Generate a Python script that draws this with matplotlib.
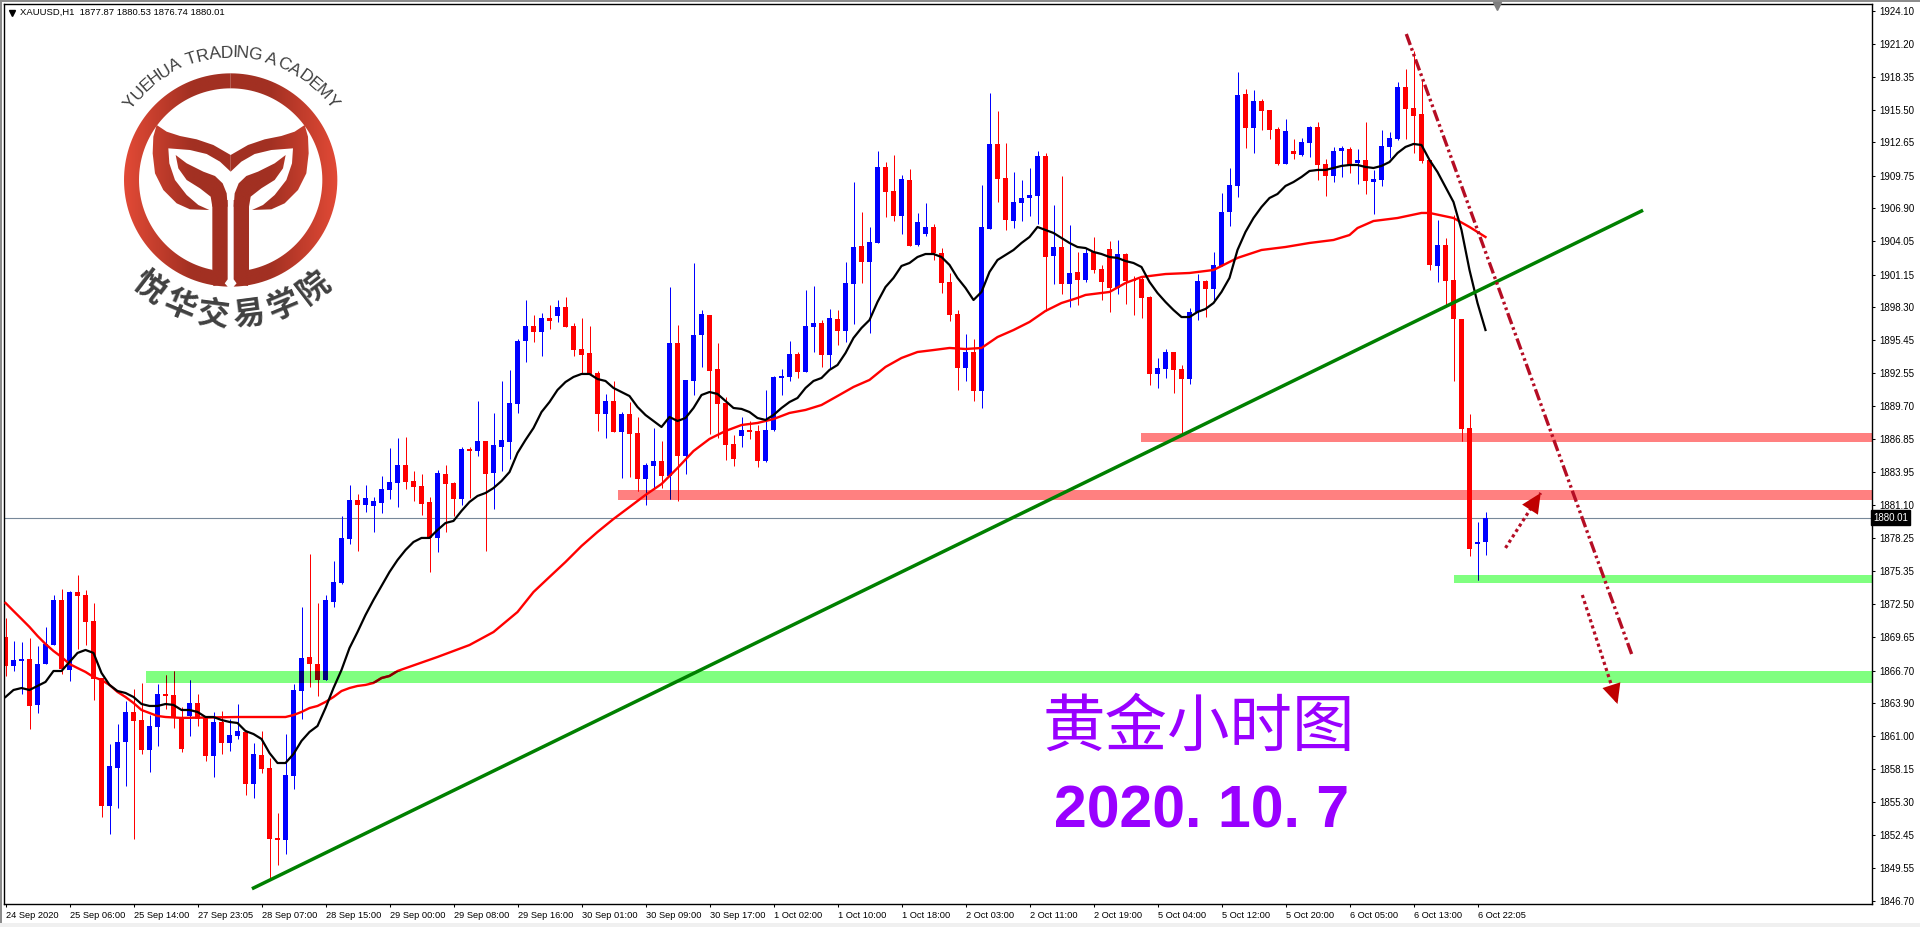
# -*- coding: utf-8 -*-

import numpy as np
import matplotlib as mpl
mpl.use('Agg')
import matplotlib.pyplot as plt
from matplotlib.patches import Rectangle, Polygon
from matplotlib.font_manager import FontProperties
from matplotlib.textpath import TextPath

# XAUUSD H1 candles
opens = [
    1869.64, 1867.12, 1867.55, 1867.73, 1863.73, 1867.29, 1868.94, 1872.86, 1866.77, 1873.55,
    1873.29, 1871.03, 1866.07, 1854.94, 1858.25, 1860.51, 1863.12, 1862.42, 1859.81, 1861.81,
    1864.68, 1864.59, 1862.59, 1862.77, 1863.90, 1862.59, 1859.29, 1862.25, 1860.42, 1861.03,
    1861.38, 1856.86, 1859.38, 1858.25, 1852.16, 1851.99, 1857.55, 1864.94, 1867.90, 1867.29,
    1865.90, 1872.68, 1874.33, 1878.16, 1881.55, 1881.12, 1881.03, 1881.29, 1882.42, 1883.03,
    1884.59, 1883.20, 1882.77, 1881.38, 1878.25, 1883.81, 1883.03, 1881.64, 1885.99, 1885.81,
    1886.68, 1883.90, 1886.16, 1886.59, 1889.90, 1895.38, 1896.68, 1896.16, 1897.38, 1897.55,
    1898.33, 1896.68, 1894.68, 1894.33, 1892.60, 1889.03, 1890.16, 1887.46, 1889.03, 1887.38,
    1883.38, 1884.51, 1884.94, 1883.64, 1895.20, 1885.38, 1891.90, 1895.90, 1897.64, 1892.94,
    1889.99, 1886.42, 1887.12, 1887.64, 1887.55, 1884.94, 1887.64, 1892.16, 1892.25, 1894.25,
    1892.68, 1896.59, 1896.94, 1894.16, 1897.29, 1896.25, 1900.33, 1903.64, 1902.25, 1903.90,
    1910.51, 1908.42, 1906.25, 1909.38, 1903.72, 1904.68, 1905.29, 1903.03, 1900.51, 1897.72,
    1893.03, 1894.42, 1891.03, 1905.12, 1912.51, 1909.55, 1905.81, 1907.38, 1907.81, 1907.99,
    1911.46, 1902.77, 1903.55, 1900.33, 1901.38, 1900.68, 1903.12, 1901.64, 1903.38, 1899.99,
    1902.94, 1900.68, 1900.77, 1899.20, 1892.51, 1892.94, 1894.42, 1892.94, 1892.07, 1897.90,
    1900.59, 1899.90, 1901.90, 1906.59, 1908.86, 1916.86, 1913.90, 1916.25, 1915.47, 1913.81,
    1910.77, 1911.90, 1911.55, 1912.60, 1913.99, 1910.77, 1909.72, 1911.90, 1912.07, 1910.86,
    1911.12, 1909.20, 1909.38, 1912.25, 1912.94, 1917.46, 1915.64, 1915.12, 1911.12, 1901.90,
    1903.72, 1900.68, 1897.29, 1887.81, 1877.72, 1877.87,
]
closes = [
    1867.12, 1867.64, 1867.73, 1863.64, 1867.29, 1869.03, 1872.86, 1866.86, 1873.55, 1873.20,
    1870.94, 1865.99, 1854.94, 1858.42, 1860.51, 1863.12, 1862.33, 1859.81, 1861.90, 1864.68,
    1864.51, 1862.59, 1859.90, 1863.90, 1862.51, 1859.29, 1862.25, 1860.42, 1861.12, 1861.46,
    1856.86, 1859.46, 1858.16, 1852.07, 1851.99, 1857.64, 1865.03, 1867.81, 1867.29, 1865.90,
    1872.86, 1874.42, 1878.25, 1881.55, 1881.12, 1881.72, 1881.46, 1882.51, 1883.12, 1884.59,
    1883.12, 1882.68, 1881.20, 1878.25, 1883.90, 1882.94, 1881.64, 1885.99, 1885.81, 1886.68,
    1883.81, 1886.33, 1886.77, 1889.99, 1895.38, 1896.68, 1896.16, 1897.38, 1897.12, 1898.33,
    1896.59, 1894.59, 1894.16, 1892.51, 1889.03, 1890.16, 1887.46, 1889.03, 1887.29, 1883.38,
    1884.59, 1884.94, 1883.64, 1895.20, 1885.38, 1891.99, 1895.90, 1897.72, 1892.77, 1889.90,
    1886.33, 1885.12, 1887.64, 1887.46, 1884.94, 1887.64, 1892.25, 1892.33, 1894.25, 1892.68,
    1896.68, 1896.94, 1894.16, 1897.38, 1896.25, 1900.42, 1903.55, 1902.25, 1903.98, 1910.51,
    1908.33, 1906.25, 1909.46, 1903.64, 1905.73, 1905.29, 1903.03, 1900.42, 1897.64, 1893.03,
    1894.42, 1891.03, 1905.29, 1912.51, 1909.46, 1905.90, 1907.46, 1907.81, 1908.07, 1911.46,
    1902.68, 1903.55, 1900.33, 1901.29, 1900.68, 1903.03, 1901.55, 1900.51, 1899.99, 1902.94,
    1900.59, 1900.59, 1899.12, 1892.51, 1893.03, 1894.42, 1892.86, 1892.07, 1897.90, 1900.59,
    1899.90, 1901.99, 1906.59, 1908.94, 1916.77, 1913.90, 1916.25, 1915.38, 1913.72, 1910.77,
    1913.64, 1911.64, 1912.68, 1913.99, 1910.68, 1909.72, 1911.90, 1912.16, 1910.68, 1911.12,
    1909.29, 1909.46, 1912.33, 1913.03, 1917.46, 1915.55, 1914.94, 1911.03, 1901.99, 1903.72,
    1900.59, 1897.29, 1887.72, 1877.29, 1877.90, 1880.01,
]
highs = [
    1871.29, 1869.29, 1869.20, 1869.55, 1868.86, 1870.51, 1873.29, 1873.81, 1873.64, 1875.03,
    1873.73, 1872.60, 1866.07, 1860.33, 1862.07, 1864.07, 1865.12, 1865.64, 1862.85, 1865.55,
    1866.33, 1866.68, 1863.55, 1865.90, 1864.68, 1862.77, 1863.12, 1863.20, 1862.51, 1863.81,
    1861.55, 1860.42, 1861.46, 1859.12, 1854.33, 1861.20, 1865.55, 1872.25, 1876.86, 1872.60,
    1873.29, 1876.25, 1880.16, 1882.86, 1882.07, 1882.86, 1881.81, 1883.64, 1886.07, 1886.94,
    1887.03, 1884.07, 1883.81, 1881.81, 1884.16, 1884.59, 1883.12, 1886.16, 1886.16, 1890.16,
    1886.68, 1889.12, 1891.90, 1892.86, 1895.55, 1898.94, 1897.64, 1897.81, 1898.51, 1898.94,
    1899.20, 1896.94, 1897.38, 1896.68, 1892.77, 1890.77, 1891.90, 1889.20, 1890.07, 1888.77,
    1884.77, 1887.81, 1886.68, 1900.07, 1896.77, 1891.99, 1902.16, 1898.07, 1897.64, 1895.20,
    1890.51, 1887.20, 1888.77, 1888.42, 1888.07, 1891.12, 1892.33, 1892.94, 1895.38, 1894.42,
    1899.81, 1900.16, 1897.20, 1898.16, 1898.07, 1902.25, 1909.20, 1906.59, 1905.29, 1911.90,
    1910.94, 1911.55, 1909.81, 1910.33, 1906.51, 1907.38, 1905.55, 1903.46, 1901.29, 1898.07,
    1895.99, 1895.55, 1908.94, 1916.94, 1915.38, 1912.59, 1910.07, 1909.38, 1910.42, 1911.90,
    1911.72, 1907.20, 1909.72, 1905.46, 1903.12, 1903.46, 1904.42, 1901.99, 1904.07, 1904.16,
    1903.03, 1901.03, 1901.03, 1899.29, 1893.90, 1894.68, 1894.42, 1893.29, 1898.25, 1901.20,
    1900.68, 1903.12, 1908.25, 1910.42, 1918.77, 1917.29, 1917.20, 1916.42, 1915.47, 1913.99,
    1914.68, 1912.94, 1913.03, 1914.07, 1914.42, 1911.20, 1912.25, 1912.33, 1912.25, 1912.07,
    1914.42, 1910.25, 1913.72, 1913.55, 1917.90, 1919.03, 1920.59, 1918.07, 1911.12, 1905.90,
    1904.33, 1906.33, 1897.29, 1889.03, 1879.64, 1880.53,
]
lows = [
    1866.25, 1866.68, 1864.68, 1861.64, 1863.03, 1867.29, 1868.94, 1866.42, 1865.81, 1868.60,
    1868.94, 1864.16, 1853.99, 1852.51, 1854.77, 1856.68, 1852.07, 1859.46, 1857.90, 1860.16,
    1863.38, 1861.72, 1859.64, 1861.03, 1861.90, 1858.86, 1857.46, 1859.46, 1859.72, 1860.77,
    1855.90, 1855.64, 1857.81, 1848.64, 1849.81, 1850.77, 1856.42, 1862.51, 1865.29, 1864.51,
    1865.90, 1872.25, 1874.25, 1877.72, 1877.12, 1880.51, 1878.77, 1880.42, 1881.64, 1880.94,
    1882.51, 1881.46, 1880.25, 1875.29, 1877.03, 1878.77, 1880.16, 1881.12, 1881.72, 1885.38,
    1877.12, 1880.77, 1884.07, 1885.12, 1889.12, 1893.55, 1895.29, 1894.07, 1896.42, 1897.03,
    1896.59, 1894.07, 1892.51, 1892.51, 1887.55, 1886.94, 1887.46, 1883.46, 1883.55, 1882.33,
    1881.12, 1882.51, 1882.59, 1881.64, 1881.46, 1883.81, 1890.68, 1893.12, 1887.29, 1886.94,
    1885.03, 1884.51, 1886.16, 1886.86, 1884.42, 1884.86, 1887.55, 1890.68, 1891.90, 1892.16,
    1892.68, 1894.42, 1893.12, 1893.03, 1895.03, 1895.29, 1896.86, 1900.42, 1896.07, 1903.90,
    1906.16, 1905.81, 1904.68, 1903.64, 1903.64, 1904.51, 1902.42, 1899.55, 1897.12, 1891.12,
    1891.90, 1890.16, 1889.55, 1905.12, 1907.46, 1905.03, 1905.20, 1905.81, 1906.25, 1905.55,
    1897.99, 1900.33, 1899.46, 1898.33, 1898.51, 1900.51, 1901.29, 1898.94, 1897.90, 1899.46,
    1898.59, 1897.64, 1897.38, 1891.55, 1891.29, 1892.16, 1890.86, 1887.20, 1891.64, 1897.20,
    1897.46, 1898.94, 1901.90, 1905.38, 1907.90, 1912.16, 1911.72, 1913.72, 1912.94, 1910.68,
    1910.77, 1911.20, 1911.46, 1911.38, 1909.38, 1907.99, 1909.20, 1909.64, 1909.99, 1909.03,
    1908.16, 1906.42, 1908.86, 1911.29, 1912.86, 1912.94, 1911.72, 1910.86, 1901.55, 1900.51,
    1898.42, 1891.90, 1886.68, 1876.68, 1874.60, 1876.74,
]

# short moving average, one value per bar
ma_black = [
    1864.42, 1865.03, 1865.20, 1865.03, 1865.38, 1865.73, 1866.68, 1866.68, 1867.47, 1868.25,
    1868.51, 1868.25, 1866.51, 1865.47, 1864.94, 1864.77, 1864.42, 1863.81, 1863.64, 1863.64,
    1863.81, 1863.73, 1863.29, 1863.29, 1863.12, 1862.68, 1862.68, 1862.42, 1862.25, 1862.16,
    1861.46, 1861.20, 1860.77, 1859.55, 1858.68, 1858.68, 1859.46, 1860.60, 1861.38, 1861.90,
    1863.46, 1865.20, 1866.77, 1868.68, 1870.07, 1871.55, 1872.86, 1874.07, 1875.29, 1876.33,
    1877.20, 1877.90, 1878.25, 1878.25, 1878.94, 1879.55, 1879.73, 1880.60, 1881.38, 1881.90,
    1882.16, 1882.59, 1883.20, 1883.98, 1885.64, 1886.77, 1887.81, 1889.20, 1890.07, 1891.12,
    1891.81, 1892.25, 1892.51, 1892.51, 1892.07, 1891.90, 1891.29, 1890.94, 1890.59, 1889.64,
    1888.94, 1888.42, 1887.90, 1888.77, 1888.42, 1888.68, 1889.55, 1890.68, 1890.94, 1890.77,
    1890.16, 1889.55, 1889.47, 1889.20, 1888.68, 1888.51, 1888.94, 1889.55, 1890.07, 1890.42,
    1891.29, 1891.90, 1892.16, 1892.86, 1893.29, 1894.33, 1895.64, 1896.51, 1897.20, 1898.77,
    1900.07, 1900.86, 1901.90, 1902.16, 1902.68, 1902.94, 1902.94, 1902.68, 1901.99, 1900.86,
    1899.99, 1898.94, 1899.64, 1901.38, 1902.42, 1902.86, 1903.29, 1903.90, 1904.42, 1905.29,
    1905.03, 1904.77, 1904.33, 1903.90, 1903.55, 1903.46, 1903.12, 1902.94, 1902.68, 1902.60,
    1902.33, 1902.16, 1901.81, 1900.51, 1899.55, 1898.77, 1898.07, 1897.46, 1897.46, 1897.90,
    1898.16, 1898.68, 1899.64, 1900.86, 1903.29, 1904.86, 1906.07, 1907.03, 1907.81, 1908.16,
    1908.86, 1909.20, 1909.64, 1910.16, 1910.25, 1910.25, 1910.42, 1910.60, 1910.68, 1910.68,
    1910.51, 1910.42, 1910.60, 1910.94, 1911.72, 1912.25, 1912.51, 1912.42, 1911.12, 1910.07,
    1908.77, 1907.46, 1905.03, 1901.55, 1898.68, 1896.33,
]

# long moving average, read at some of the bars only
ma_red_bars = [
    0, 1, 2, 3, 4, 5, 6, 7, 8, 9, 10, 11, 12, 13, 14, 15, 16, 17, 18, 19, 20, 22, 29, 35, 36, 37, 38, 39,
    40, 41, 42, 43, 44, 45, 46, 47, 48, 49, 54, 58, 61, 64, 66, 68, 70, 72, 74, 76, 78, 80, 82, 84, 86,
    88, 90, 92, 94, 96, 98, 100, 102, 104, 106, 108, 110, 112, 114, 116, 118, 120, 122, 124, 126, 128,
    130, 132, 134, 135, 138, 140, 142, 145, 148, 151, 154, 157, 160, 163, 166, 168, 169, 171, 174, 177,
    178, 181, 183, 185,
]
ma_red = [
    1872.60, 1871.90, 1871.21, 1870.51, 1869.73, 1869.03, 1868.42, 1867.90, 1867.29, 1866.94, 1866.60,
    1866.16, 1865.90, 1865.47, 1864.86, 1864.42, 1863.90, 1863.29, 1863.03, 1862.77, 1862.68, 1862.60,
    1862.68, 1862.68, 1862.85, 1863.12, 1863.46, 1863.64, 1863.99, 1864.42, 1864.94, 1865.20, 1865.38,
    1865.47, 1865.64, 1866.07, 1866.25, 1866.68, 1867.90, 1868.94, 1870.07, 1871.81, 1873.55, 1874.86,
    1876.16, 1877.55, 1878.77, 1879.90, 1880.94, 1881.99, 1882.94, 1884.33, 1885.81, 1886.86, 1887.55,
    1888.07, 1888.25, 1888.59, 1889.12, 1889.38, 1889.81, 1890.59, 1891.38, 1891.99, 1893.12, 1893.90,
    1894.42, 1894.59, 1894.77, 1894.68, 1894.77, 1895.72, 1896.33, 1897.03, 1897.99, 1898.68, 1899.12,
    1899.38, 1899.64, 1900.42, 1900.94, 1901.20, 1901.29, 1901.55, 1902.60, 1903.29, 1903.55, 1903.90,
    1904.16, 1904.59, 1905.20, 1905.81, 1906.07, 1906.51, 1906.51, 1906.07, 1905.29, 1904.42,
]

# support / resistance bands: first bar, upper price, lower price
pink_bands = [(141.9, 1887.38, 1886.60), (76.6, 1882.42, 1881.55)]
green_bands = [(181.1, 1875.03, 1874.33), (17.5, 1866.68, 1865.64)]

# hand drawn lines, bar number and price of both ends
trend_bars = [31.0, 204.5]
trend_prices = [1847.81, 1906.68]
fall_bars = [175.1, 203.4]
fall_prices = [1922.07, 1867.90]
up_arrow_bars = [187.5, 191.9]
up_arrow_prices = [1877.38, 1882.16]
down_arrow_bars = [197.1, 201.5]
down_arrow_prices = [1873.29, 1863.81]

last_price = 1880.01

y_ticks = [1924.10, 1921.20, 1918.35, 1915.50, 1912.65, 1909.75, 1906.90, 1904.05, 1901.15, 1898.30,
           1895.45, 1892.55, 1889.70, 1886.85, 1883.95, 1881.10, 1878.25, 1875.35, 1872.50, 1869.65,
           1866.70, 1863.90, 1861.00, 1858.15, 1855.30, 1852.45, 1849.55, 1846.70]
x_tick_labels = ['24 Sep 2020', '25 Sep 06:00', '25 Sep 14:00', '27 Sep 23:05', '28 Sep 07:00', '28 Sep 15:00',
                 '29 Sep 00:00', '29 Sep 08:00', '29 Sep 16:00', '30 Sep 01:00', '30 Sep 09:00', '30 Sep 17:00',
                 '1 Oct 02:00', '1 Oct 10:00', '1 Oct 18:00', '2 Oct 03:00', '2 Oct 11:00', '2 Oct 19:00',
                 '5 Oct 04:00', '5 Oct 12:00', '5 Oct 20:00', '6 Oct 05:00', '6 Oct 13:00', '6 Oct 22:05']

header = 'XAUUSD,H1  1877.87 1880.53 1876.74 1880.01'
title_cn = '黄金小时图'
title_date = '2020. 10. 7'
logo_en = 'YUEHUA TRADING ACADEMY'
logo_cn = '悦华交易学院'

W, H = 1920, 927
UI_FONT = ['Liberation Sans', 'DejaVu Sans']
CJK_FONT = ['Noto Sans CJK SC', 'DejaVu Sans']
BLUE = '#0000ff'
RED = '#ff0000'
PURPLE = '#9900ff'
DASH_RED = '#b50d24'


def draw_candles(ax, up_color, down_color, zorder, clip=None):
    o = np.array(opens)
    c = np.array(closes)
    hi = np.array(highs)
    lo = np.array(lows)
    bars = np.arange(len(o))
    up = c >= o
    artists = []
    for mask, color in ((up, up_color), (~up, down_color)):
        # aliased vlines come out 3 px wide, keep them antialiased and let them snap
        w = ax.vlines(bars[mask], lo[mask], hi[mask], colors=color, linewidth=0.72, zorder=zorder)
        b = ax.bar(bars[mask], np.abs(c - o)[mask], bottom=np.minimum(o, c)[mask], width=0.625, color=color,
                   linewidth=0, antialiased=False, zorder=zorder)
        artists.append(w)
        artists.extend(b.patches)
    if clip is not None:
        for a in artists:
            a.set_clip_path(clip)


def add_band(ax, band, color, right):
    first, top, bottom = band
    r = Rectangle((first, bottom), right - first, top - bottom, facecolor=color, edgecolor='none', zorder=1)
    ax.add_patch(r)
    return r


def dotted_arrow(ax, bars, prices):
    ax.plot(bars, prices, color=DASH_RED, linewidth=2.3, linestyle=(0, (1, 1)), zorder=5)
    # only the head comes from annotate, the shaft above is dotted
    tail = (bars[1] - 0.25 * (bars[1] - bars[0]), prices[1] - 0.25 * (prices[1] - prices[0]))
    ax.annotate('', xy=(bars[1], prices[1]), xytext=tail, zorder=6,
                arrowprops=dict(arrowstyle='-|>,head_length=0.95,head_width=0.45', color='#c00000', lw=0,
                                mutation_scale=15, shrinkA=0, shrinkB=0))


def plotChart(fig):
    ax = fig.add_axes([4 / W, (H - 904) / H, 1868 / W, 900 / H])
    # bars sit 8 px apart, the first wick in pixel column 5
    right = (1872 - 5.5) / 8
    ax.set_xlim((4 - 5.5) / 8, right)
    ax.set_ylim(1846.42, 1924.68)

    ax.axhline(last_price, color='#778899', linewidth=0.8, zorder=1.5)

    pink = [add_band(ax, b, '#ff8080', right) for b in pink_bands]
    green = [add_band(ax, b, '#80ff80', right) for b in green_bands]

    draw_candles(ax, BLUE, RED, 2)
    # the bands darken what lies under them in the terminal
    for r in green:
        draw_candles(ax, '#000080', '#800000', 2.5, clip=r)
    for r in pink:
        draw_candles(ax, '#000080', RED, 2.5, clip=r)

    bars = np.arange(len(ma_black))
    ax.plot(ma_red_bars, ma_red, color=RED, linewidth=1.7, zorder=3)
    for r in green:
        dark, = ax.plot(ma_red_bars, ma_red, color='#800000', linewidth=1.7, zorder=3.1)
        dark.set_clip_path(r)
    ax.plot(bars, ma_black, color='black', linewidth=1.6, zorder=3.5)

    ax.plot(trend_bars, trend_prices, color='#008000', linewidth=2.5, zorder=4)
    ax.plot(fall_bars, fall_prices, color=DASH_RED, linewidth=2.4, linestyle=(0, (3.5, 1, 0.8, 1, 0.8, 1)), zorder=5)
    dotted_arrow(ax, up_arrow_bars, up_arrow_prices)
    dotted_arrow(ax, down_arrow_bars, down_arrow_prices)

    ax.set_xticks(np.arange(len(x_tick_labels)) * 8)
    ax.set_xticklabels(x_tick_labels, ha='left', family=UI_FONT, fontsize=6.7)
    ax.yaxis.tick_right()
    ax.set_yticks(y_ticks)
    ax.set_yticklabels(['%.2f' % v for v in y_ticks], family=UI_FONT, fontsize=7)
    ax.tick_params(axis='x', length=2.5, width=0.75, pad=2.5)
    ax.tick_params(axis='y', length=2.5, width=0.75, pad=2.5)
    for s in ax.spines.values():
        s.set_linewidth(1.0)

    ax.text(1.0005, last_price, '%.2f' % last_price, transform=ax.get_yaxis_transform(), color='white',
            family=UI_FONT, fontsize=7, va='center', ha='left', zorder=10, clip_on=False,
            bbox=dict(facecolor='black', edgecolor='black', pad=1.6))
    return ax


def gradient_fill(ov, points):
    stops = np.array([[226, 74, 54], [162, 48, 34], [162, 48, 34], [226, 74, 54]]) / 255
    t = np.linspace(0, 1, 256)
    img = np.stack([np.interp(t, [0, 0.32, 0.68, 1], stops[:, k]) for k in range(3)], axis=-1)[None, :, :]
    im = ov.imshow(img, extent=(124, 338, 290, 70), aspect='auto', zorder=2, interpolation='bilinear')
    im.set_clip_path(Polygon(points, closed=True, transform=ov.transData))


def plotLogo(ov):
    # emblem outlines, left half, the right one is its mirror image around x=692/3
    a_out = np.radians(np.linspace(0, 178.4, 80))
    a_in = np.radians(np.linspace(168.5, 0, 80))
    ring = np.vstack([np.c_[692 - 320 * np.sin(a_out), 540 - 320 * np.cos(a_out)],
                      np.c_[692 - 275 * np.sin(a_in), 540 - 275 * np.cos(a_in)]])
    stem = np.array([(637, 600), (683, 600), (683, 838), (672, 853), (640, 858), (637, 810)])
    leaf = np.array([(527, 465), (560, 490), (610, 515), (645, 528), (668, 550), (680, 580), (683, 620),
                     (637, 620), (632, 590), (600, 565), (560, 540), (535, 505)])
    wing = np.array([(470, 375), (500, 395), (540, 408), (590, 418), (640, 435), (692, 465), (692, 515),
                     (660, 485), (620, 462), (570, 450), (505, 445), (508, 490), (525, 540), (560, 585),
                     (595, 615), (628, 630), (570, 628), (530, 610), (490, 570), (465, 520), (458, 460),
                     (460, 410)])
    for shape in (ring, stem, leaf, wing):
        gradient_fill(ov, shape / 3)
        mirrored = shape.copy()
        mirrored[:, 0] = 1384 - mirrored[:, 0]
        gradient_fill(ov, mirrored / 3)

    # letters on the arc above the ring
    fp = FontProperties(family='Liberation Sans')
    widths = []
    for ch in logo_en:
        widths.append(2.8 if ch == ' ' else TextPath((0, 0), ch, size=10, prop=fp).get_extents().width + 1.1)
    edges = np.cumsum([0] + widths)
    mids = (edges[:-1] + edges[1:]) / 2 / edges[-1]
    for ch, m in zip(logo_en, mids):
        th = np.radians(-55 + 110 * m)
        ov.text(231 + 127 * np.sin(th), 180 - 127 * np.cos(th), ch, family=UI_FONT, fontsize=12.5, color='#404040',
                rotation=-np.degrees(th), rotation_mode='anchor', ha='center', va='center', zorder=3)

    # chinese name on the arc below
    for i, ch in enumerate(logo_cn):
        th = np.radians(-37.5 + 15 * i)
        ov.text(231 + 136 * np.sin(th), 180 + 136 * np.cos(th), ch, family=CJK_FONT, fontsize=23, fontweight='bold',
                color='#404040', rotation=np.degrees(th), rotation_mode='anchor', ha='center', va='center', zorder=3)


def main():
    fig = plt.figure(figsize=(W / 100, H / 100), dpi=100, facecolor='white')
    plotChart(fig)

    # pixel overlay for the header, the logo and the big titles
    ov = fig.add_axes([0, 0, 1, 1], facecolor='none', zorder=5)
    ov.set_axis_off()
    plotLogo(ov)
    ov.set_xlim(0, W)
    ov.set_ylim(H, 0)

    ov.add_patch(Rectangle((0, 0), W, 2, facecolor='#8c8c8c', edgecolor='none'))
    ov.add_patch(Rectangle((0, 0), 2, H - 4, facecolor='#8c8c8c', edgecolor='none'))
    ov.add_patch(Rectangle((0, H - 4), W, 4, facecolor='#f0f0f0', edgecolor='none'))

    ov.plot([12], [12.5], marker='v', color='black', markersize=4.5, linestyle='none')
    ov.plot([1497], [6], marker='v', color='#7f7f7f', markersize=6, linestyle='none')
    ov.text(20, 12.5, header, family=UI_FONT, fontsize=6.8, va='center', ha='left', color='black')

    ov.text(1199, 728, title_cn, family=CJK_FONT, fontsize=45, fontweight='medium', color=PURPLE,
            ha='center', va='center')
    ov.text(1202, 812, title_date, family=UI_FONT, fontsize=42.5, fontweight='bold', color=PURPLE,
            ha='center', va='center')

    fig.savefig('out.png', dpi=100)


if __name__ == '__main__':
    main()
